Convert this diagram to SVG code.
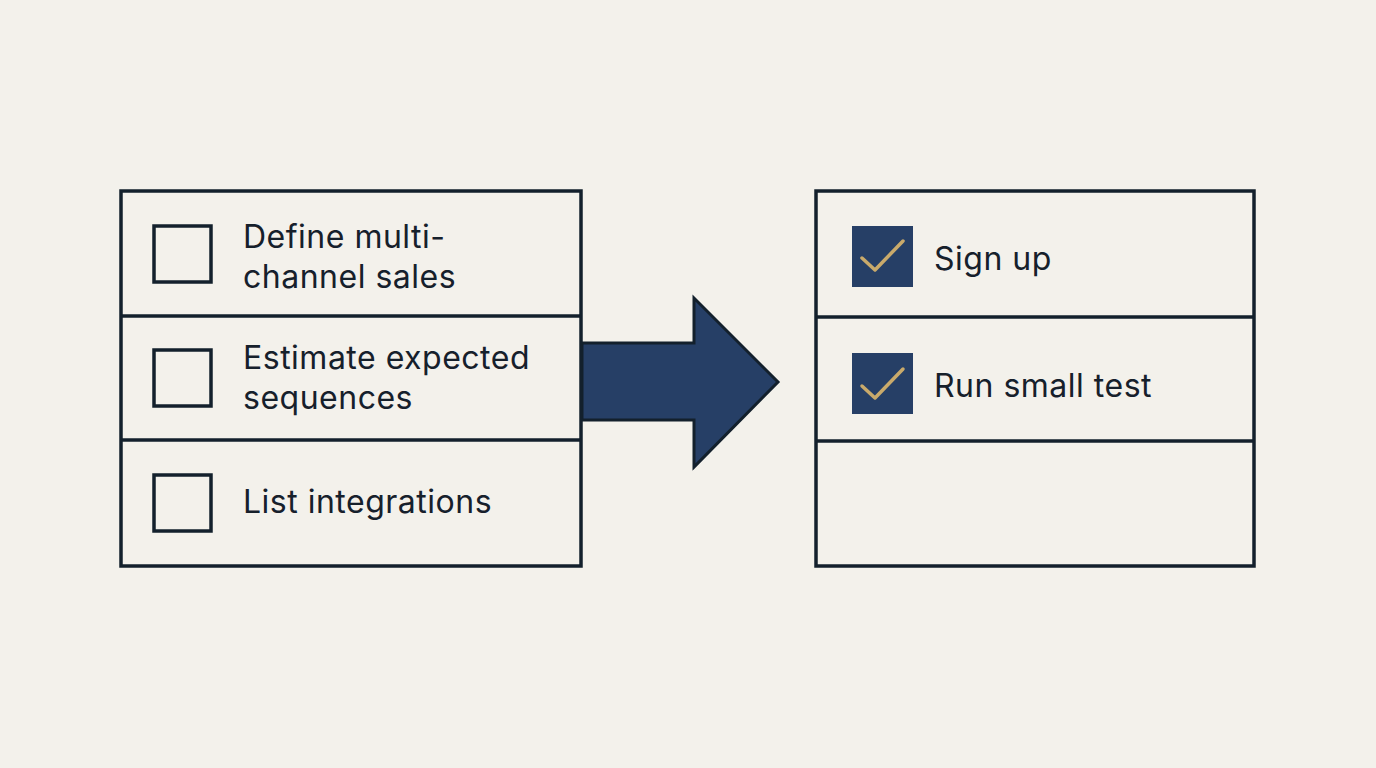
<svg xmlns="http://www.w3.org/2000/svg" width="1376" height="768" viewBox="0 0 1376 768">
<style>
.frame{fill:#f3f1eb;stroke:#13202c;stroke-width:3.5}
.div{stroke:#13202c;stroke-width:3.5}
.box{fill:none;stroke:#13202c;stroke-width:3.5}
.cbox{fill:#263f66}
.chk{fill:none;stroke:#c9aa6b;stroke-width:3.5;stroke-linecap:round;stroke-linejoin:round}
.t{font-family:Inter,"Noto Sans",sans-serif;font-size:32px;letter-spacing:0.5px;fill:#16202b}
</style>
<rect width="1376" height="768" fill="#f3f1eb"/>
<g id="connectors">
<path d="M582,343 H694 V298 L778,382 L694,467 V420 H582 Z" fill="#263f66" stroke="#13202c" stroke-width="3" stroke-linejoin="miter"/>
</g>
<g id="left-list">
<rect class="frame" x="121" y="191" width="460" height="375"/>
<line class="div" x1="121" y1="316" x2="581" y2="316"/>
<line class="div" x1="121" y1="440" x2="581" y2="440"/>
</g>
<g id="item-define">
<rect class="box" x="154" y="226" width="57" height="56"/>
<text class="t" x="243" y="248">Define multi-</text>
<text class="t" x="243" y="288">channel sales</text>
</g>
<g id="item-estimate">
<rect class="box" x="154" y="350" width="57" height="56"/>
<text class="t" x="243" y="369">Estimate expected</text>
<text class="t" x="243" y="409">sequences</text>
</g>
<g id="item-list">
<rect class="box" x="154" y="475" width="57" height="56"/>
<text class="t" x="243" y="513">List integrations</text>
</g>
<g id="right-list">
<rect class="frame" x="816" y="191" width="438" height="375"/>
<line class="div" x1="816" y1="317" x2="1254" y2="317"/>
<line class="div" x1="816" y1="441" x2="1254" y2="441"/>
</g>
<g id="item-signup">
<rect class="cbox" x="852" y="226" width="61" height="61"/>
<path class="chk" d="M862,258 L875,270 L903,241"/>
<text class="t" x="934" y="270">Sign up</text>
</g>
<g id="item-run">
<rect class="cbox" x="852" y="353" width="61" height="61"/>
<path class="chk" d="M862,386 L875,398 L903,369"/>
<text class="t" x="934" y="397">Run small test</text>
</g>
</svg>
